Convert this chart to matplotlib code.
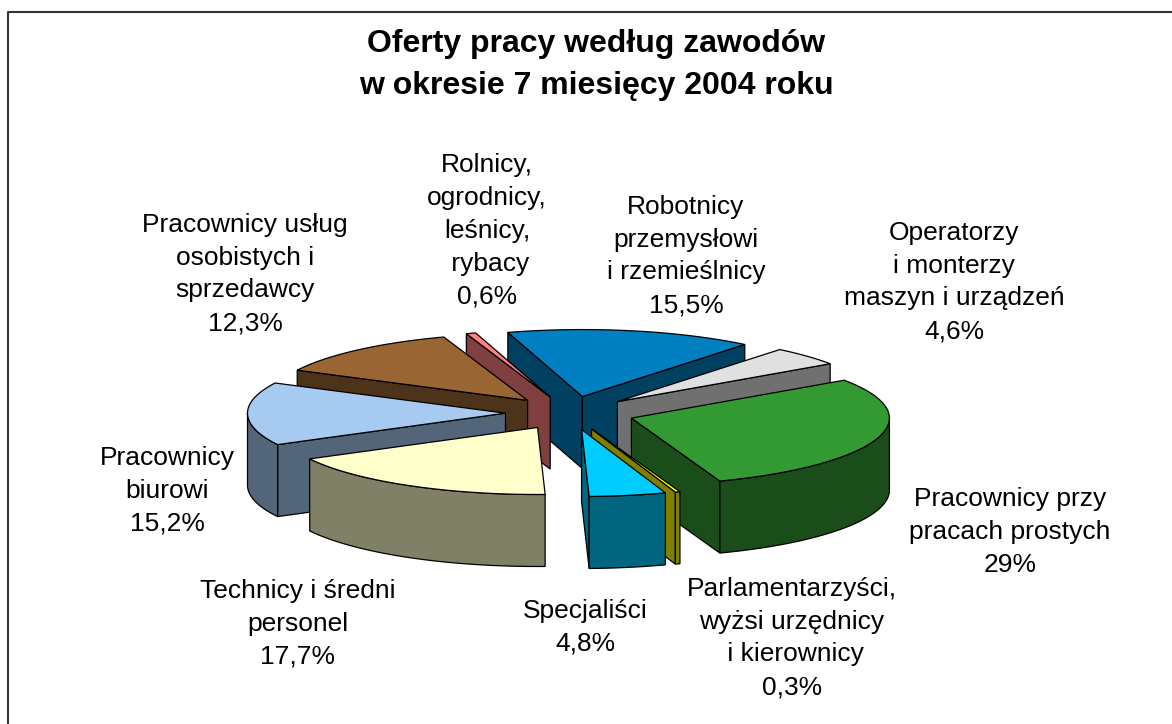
import numpy as np
import matplotlib
matplotlib.use('Agg')
import matplotlib.pyplot as plt
from matplotlib.patches import Polygon

plt.rcParams['font.family'] = ['Liberation Sans', 'DejaVu Sans']

# slices go clockwise from the first one
names = ['Robotnicy\nprzemysłowi\ni rzemieślnicy', 'Operatorzy\ni monterzy\nmaszyn i urządzeń',
         'Pracownicy przy\npracach prostych', 'Parlamentarzyści,\nwyżsi urzędnicy\n i kierownicy',
         'Specjaliści', 'Technicy i średni\npersonel', 'Pracownicy\nbiurowi',
         'Pracownicy usług\nosobistych i\nsprzedawcy', 'Rolnicy,\nogrodnicy,\nleśnicy,\n rybacy']
values = [15.5, 4.6, 29, 0.3, 4.8, 17.7, 15.2, 12.3, 0.6]
colors = ['#0080C0', '#E0E0E0', '#339933', '#FFFF00', '#00CCFF',
          '#FFFFCC', '#A6CAF0', '#996633', '#FF8080']
label_x = [686, 954, 1010, 792, 585, 298, 167, 245, 487]
label_y = [256, 282, 532, 638, 627, 624, 491, 274, 231]

first_angle = -16.8
cx, cy = 570, 413
rx, ry = 258, 67
depth = 72
explode = 0.25


def darker(c):
    r, g, b = matplotlib.colors.to_rgb(c)
    return (r * 0.5, g * 0.5, b * 0.5)


def point(x0, y0, deg):
    t = np.radians(deg)
    return x0 + rx * np.sin(t), y0 - ry * np.cos(t)


fig = plt.figure(figsize=(11.72, 7.24), dpi=100)
ax = fig.add_axes([0, 0, 1, 1])
ax.set_xlim(0, 1172)
ax.set_ylim(724, 0)
ax.axis('off')

# chart frame
ax.plot([8, 8, 1172], [724, 12, 12], color='#333333', lw=1.5)

edges = np.cumsum([0] + values) / sum(values) * 360 + first_angle
slices = []
for i in range(len(values)):
    t0, t1 = edges[i], edges[i + 1]
    mid = np.radians((t0 + t1) / 2)
    ax0 = cx + explode * rx * np.sin(mid)
    ay0 = cy - explode * ry * np.cos(mid)
    slices.append((ay0, ax0, t0, t1, colors[i]))

# back to front
for ay0, ax0, t0, t1, col in sorted(slices, key=lambda s: s[0]):
    wall = darker(col)
    for deg, normal in [(t0, t0 - 90), (t1, t1 + 90)]:
        # cut faces that look at the viewer
        if np.cos(np.radians(normal)) < 0:
            ex, ey = point(ax0, ay0, deg)
            ax.add_patch(Polygon([(ax0, ay0), (ex, ey), (ex, ey + depth), (ax0, ay0 + depth)],
                                 fc=wall, ec='black', lw=0.9))
    for lo, hi in [(t0, t1), (t0 + 360, t1 + 360), (t0 - 360, t1 - 360)]:
        a, b = max(lo, 90), min(hi, 270)
        if b > a:
            xs, ys = point(ax0, ay0, np.linspace(a, b, 60))
            pts = list(zip(xs, ys)) + list(zip(xs[::-1], ys[::-1] + depth))
            ax.add_patch(Polygon(pts, fc=wall, ec='black', lw=0.9))
    xs, ys = point(ax0, ay0, np.linspace(t0, t1, 60))
    ax.add_patch(Polygon([(ax0, ay0)] + list(zip(xs, ys)), fc=col, ec='black', lw=0.9))

ax.text(596, 65, 'Oferty pracy według zawodów\nw okresie 7 miesięcy 2004 roku', ha='center', va='center',
        fontsize=23, fontweight='bold', linespacing=1.52)

for name, v, x, y in zip(names, values, label_x, label_y):
    pct = f'{v:g}'.replace('.', ',') + '%'
    ax.text(x, y, name + '\n' + pct, ha='center', va='center', fontsize=19,
            linespacing=1.47, color='black')

fig.savefig('out.png', dpi=100)
